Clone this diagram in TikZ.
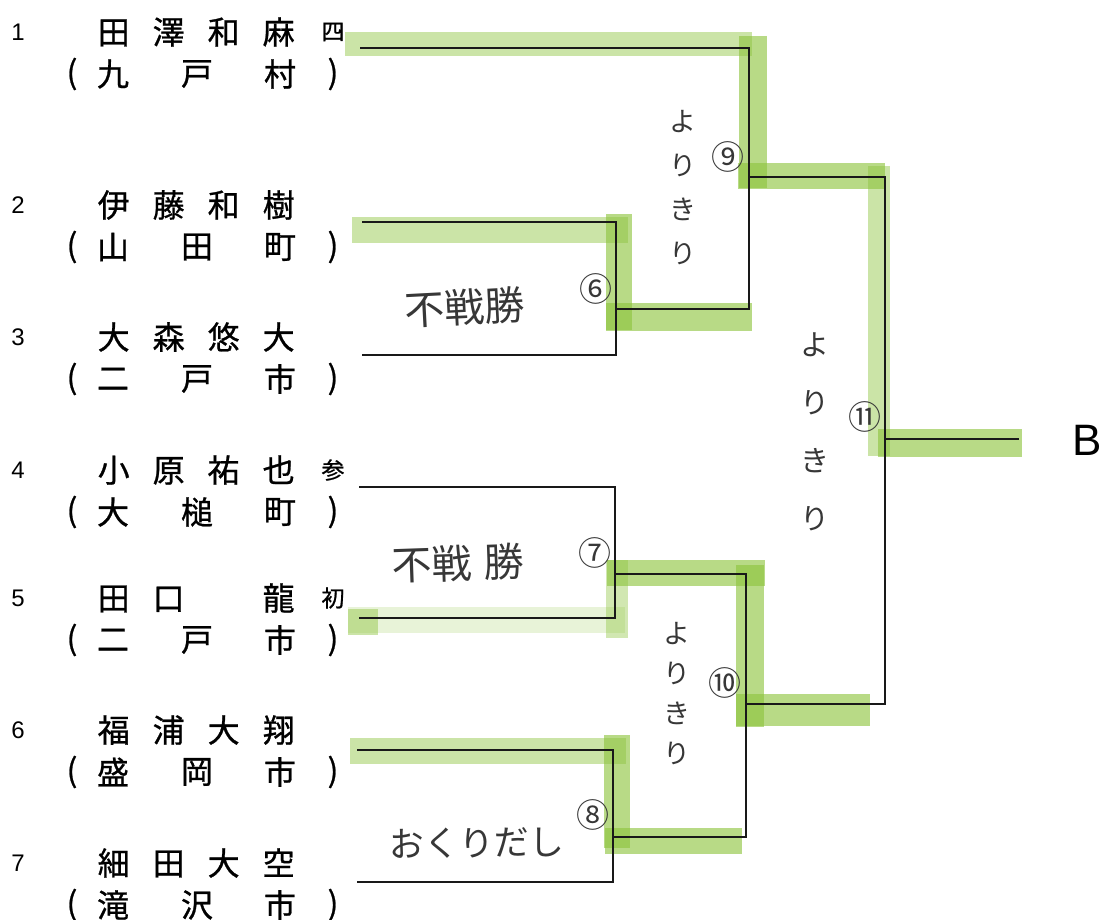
\documentclass[tikz,border=0pt]{standalone}
\usepackage{fontspec}
\newfontfamily\jp{Noto Sans CJK JP}
\newfontfamily\jpb{Noto Sans CJK JP}[FakeBold=0.8]
\newfontfamily\lat{Liberation Sans}
\definecolor{marker}{RGB}{140,195,60}
\definecolor{pen}{RGB}{55,55,55}
\tikzset{
	numlbl/.style={font=\lat\fontsize{24}{24}\selectfont},
	namelbl/.style={anchor=west, inner sep=0pt, font=\jpb\fontsize{32}{32}\selectfont},
	placelbl/.style={inner sep=0pt, font=\jpb\fontsize{32}{32}\selectfont},
	gradelbl/.style={inner sep=0pt, font=\jpb\fontsize{23}{23}\selectfont},
	bracket/.style={line width=1.6pt, black!90},
	hl/.style={draw=marker, opacity=0.45, line width=26pt, line cap=butt},
	hlc/.style={hl, opacity=0.62},
	hand/.style={pen, inner sep=0pt, font=\jp\fontsize{40}{40}\selectfont},
	vhand/.style={pen, inner sep=0pt, align=center},
	matchno/.style={pen, inner sep=0pt, font=\jp\fontsize{33}{33}\selectfont}
}
\newcommand\nm[1]{\makebox[55pt]{#1}}
% one player: id, y, name, grade, place
\newcommand\entry[7]{%
	\node[numlbl] (num#1) at (18,#2) {#1};
	\node[namelbl] (name#1) at (86,#2) {#3};
	\node[gradelbl] (grade#1) at (333,#2) {#4};
	\node[placelbl] (lp#1) at (72,#2+42) {(};
	\node[placelbl] (pa#1) at (113,#2+42) {#5};
	\node[placelbl] (pb#1) at (197,#2+42) {#6};
	\node[placelbl] (pc#1) at (280,#2+42) {#7};
	\node[placelbl] (rp#1) at (333,#2+42) {)};
}

\begin{document}
\begin{tikzpicture}[x=1pt,y=-1pt]
	\useasboundingbox (0,0) rectangle (1104,920);
	%%%%% MARKER %%%%%
	
	\draw[hl, line width=24pt] (345,44) -- (752,44);
	\draw[hlc, line width=28pt] (753,36) -- (753,188);
	\draw[hlc] (738,176) -- (885,176);
	\draw[hl, line width=22pt] (879,166) -- (879,456);
	\draw[hlc, line width=28pt] (878,443) -- (1022,443);
	
	\draw[hl] (352,230) -- (628,230);
	\draw[hlc] (619,214) -- (619,330);
	\draw[hlc, line width=28pt] (606,317) -- (752,317);
	
	\draw[hl, opacity=0.2] (348,620) -- (625,620);
	\draw[hl, opacity=0.45] (348,622) -- (378,622);
	\draw[hl, line width=22pt, opacity=0.4] (617,560) -- (617,638);
	\draw[hlc] (607,573) -- (765,573);
	\draw[hlc, line width=28pt] (750,565) -- (750,727);
	\draw[hlc, line width=32pt] (736,710) -- (870,710);
	
	\draw[hl] (350,751) -- (626,751);
	\draw[hlc] (617,735) -- (617,848);
	\draw[hlc] (605,841) -- (742,841);
	
	%%%%% PLAYERS %%%%%
	
	\entry{1}{32}{\nm{田}\nm{澤}\nm{和}\nm{麻}}{四}{九}{戸}{村}
	\entry{2}{205}{\nm{伊}\nm{藤}\nm{和}\nm{樹}}{}{山}{田}{町}
	\entry{3}{337}{\nm{大}\nm{森}\nm{悠}\nm{大}}{}{二}{戸}{市}
	\entry{4}{470}{\nm{小}\nm{原}\nm{祐}\nm{也}}{参}{大}{槌}{町}
	\entry{5}{598}{\nm{田}\nm{口}\nm{}\nm{龍}}{初}{二}{戸}{市}
	\entry{6}{730}{\nm{福}\nm{浦}\nm{大}\nm{翔}}{}{盛}{岡}{市}
	\entry{7}{863}{\nm{細}\nm{田}\nm{大}\nm{空}}{}{滝}{沢}{市}
	
	%%%%% BRACKET %%%%%
	
	\coordinate (s1) at (360,48);
	\coordinate (s2) at (362,222);
	\coordinate (s3) at (362,355);
	\coordinate (s4) at (359,487);
	\coordinate (s5) at (359,618);
	\coordinate (s6) at (357,750);
	\coordinate (s7) at (357,882);
	\coordinate (m6) at (616,309);
	\coordinate (m7) at (615,574);
	\coordinate (m8) at (613,837);
	\coordinate (m9) at (749,177);
	\coordinate (m10) at (746,704);
	\coordinate (m11) at (885,439);
	\coordinate (win) at (1019,439);
	
	\draw[bracket] (s2) -| (m6) |- (s3);
	\draw[bracket] (s4) -| (m7) |- (s5);
	\draw[bracket] (s6) -| (m8) |- (s7);
	\draw[bracket] (s1) -| (m9) |- (m6);
	\draw[bracket] (m7) -| (m10) |- (m8);
	\draw[bracket] (m9) -| (m11) |- (m10);
	\draw[bracket] (m11) -- (win);
	
	\node[font=\lat\fontsize{44}{44}\selectfont] (blk) at (1087,440) {B};
	
	%%%%% RESULTS %%%%%
	
	\node[matchno] (n6) at (596,289) {⑥};
	\node[matchno] (n7) at (595,553) {⑦};
	\node[matchno] (n8) at (593,815) {⑧};
	\node[matchno] (n9) at (728,157) {⑨};
	\node[matchno] (n10) at (725,683) {⑩};
	\node[matchno] (n11) at (865,417) {⑪};
	
	\node[hand, rotate=3] (k6) at (465,307) {不戦勝};
	\node[hand, rotate=2] (k7) at (458,563) {不戦\hspace{12pt}勝};
	\node[hand, font=\jp\fontsize{35}{35}\selectfont, rotate=1] (k8) at (477,843) {おくりだし};
	\node[vhand, font=\jp\fontsize{27}{44}\selectfont] (k9) at (683,188) {よ\\り\\き\\り};
	\node[vhand, font=\jp\fontsize{29}{58}\selectfont] (k11) at (815,432) {よ\\り\\き\\り};
	\node[vhand, font=\jp\fontsize{27}{40}\selectfont] (k10) at (677,694) {よ\\り\\き\\り};
\end{tikzpicture}
\end{document}
